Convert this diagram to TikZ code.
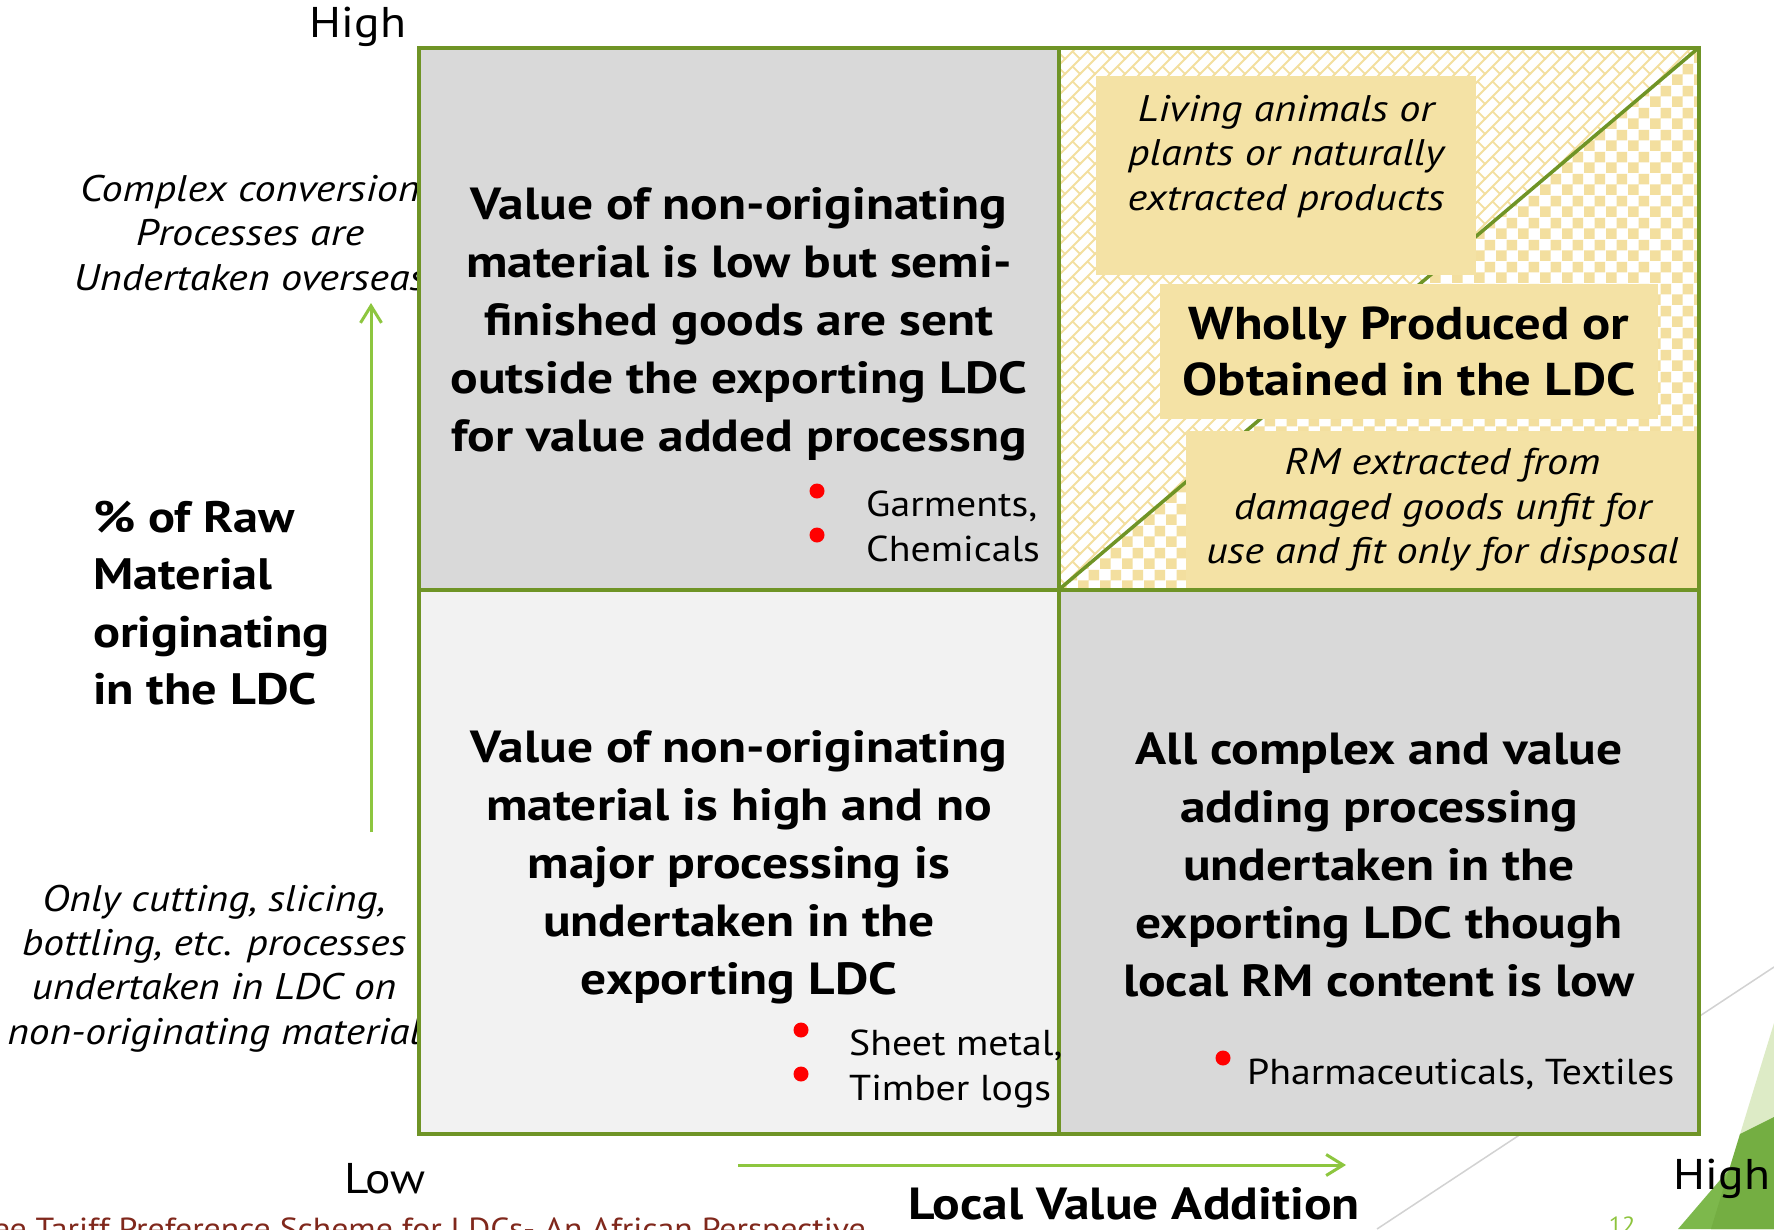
\documentclass[tikz,border=0pt]{standalone}
\usepackage{fontspec}
\setmainfont{PT Sans}
\newfontfamily\widesans[FakeStretch=1.144]{PT Sans}
\newfontfamily\plainsans[FakeStretch=1.105]{PT Sans}
\newfontfamily\slantsans[FakeStretch=1.14]{PT Sans}
\newfontfamily\slantnarrow[FakeStretch=1.12]{PT Sans}
\usetikzlibrary{arrows.meta,patterns}

\definecolor{gridgreen}{HTML}{6F9426}
\definecolor{arrowgreen}{HTML}{8DC63F}
\definecolor{cellgray}{HTML}{D9D9D9}
\definecolor{celllight}{HTML}{F2F2F2}
\definecolor{boxwheat}{HTML}{F4E2A5}
\definecolor{patwheat}{HTML}{F3DF9F}
\definecolor{footred}{HTML}{80281C}
\definecolor{pagegreen}{HTML}{8DC43C}
\definecolor{facetlight}{HTML}{DDEBC6}
\definecolor{facetdark}{HTML}{7DB84C}
\definecolor{facetmid}{HTML}{74AE42}
\definecolor{decogray}{HTML}{D2D2D2}

% diagonal bricks running up to the right
\pgfdeclarepatternformonly{diagbricks}{\pgfqpoint{-1pt}{-1pt}}{\pgfqpoint{16pt}{16pt}}{\pgfqpoint{15pt}{15pt}}{%
  \pgfsetlinewidth{1.8pt}%
  \pgfpathmoveto{\pgfqpoint{-1pt}{-1pt}}\pgfpathlineto{\pgfqpoint{16pt}{16pt}}%
  \pgfpathmoveto{\pgfqpoint{7.5pt}{7.5pt}}\pgfpathlineto{\pgfqpoint{15pt}{0pt}}%
  \pgfusepath{stroke}}

% large checkerboard
\pgfdeclarepatternformonly{bigchecks}{\pgfqpoint{0pt}{0pt}}{\pgfqpoint{22pt}{22pt}}{\pgfqpoint{22pt}{22pt}}{%
  \pgfpathrectangle{\pgfqpoint{0pt}{0pt}}{\pgfqpoint{11pt}{11pt}}%
  \pgfpathrectangle{\pgfqpoint{11pt}{11pt}}{\pgfqpoint{11pt}{11pt}}%
  \pgfusepath{fill}}

\tikzset{
  gridline/.style={draw=gridgreen, line width=4pt},
  bigtext/.style={font=\widesans\fontsize{45}{58}\selectfont\bfseries, align=center, inner sep=0pt},
  sidenote/.style={font=\slantsans\fontsize{37}{44.2}\selectfont\itshape, align=center, inner sep=0pt},
  itemtext/.style={font=\plainsans\fontsize{36}{45}\selectfont, align=left, inner sep=0pt, anchor=west},
  axislabel/.style={font=\plainsans\fontsize{43}{50}\selectfont, inner sep=0pt},
  reddot/.style={circle, fill=red, minimum size=15pt, inner sep=0pt},
  wheatbox/.style={fill=boxwheat, inner sep=0pt, align=center},
  axisarrow/.style={draw=arrowgreen, line width=3pt, -{Straight Barb[length=17pt,width=21pt,line width=3pt]}},
}

\begin{document}
\begin{tikzpicture}[x=1pt, y=-1pt]
\clip (0,0) rectangle (1774,1229);
\fill[white] (0,0) rectangle (1774,1229);

% theme decoration, bottom right
\draw[decogray, line width=1.5pt] (1377,1229) -- (1774,967);
\fill[facetlight] (1711,1229) -- (1774,1023) -- (1774,1229) -- cycle;
\fill[facetdark] (1678,1229) -- (1774,1117) -- (1774,1229) -- cycle;
\fill[facetmid] (1711,1229) -- (1740,1134) -- (1774,1117) -- (1774,1229) -- cycle;

% notes to the left of the matrix
\node[sidenote] (complex) at (250,233) {Complex conversion\\Processes are\\Undertaken overseas};
\node[sidenote, font=\slantnarrow\fontsize{37}{44.2}\selectfont\itshape] (cutting) at (214,968.5) {Only cutting, slicing,\\bottling, etc. processes\\undertaken in LDC on\\non-originating material};

% quadrant fills
\fill[cellgray] (419,47.5) rectangle (1059,589.5);
\fill[celllight] (419,589.5) rectangle (1059,1133.7);
\fill[cellgray] (1059,589.5) rectangle (1699,1133.7);
\fill[white] (1059,47.5) rectangle (1699,589.5);
\fill[pattern=diagbricks, pattern color=patwheat] (1059,589.5) -- (1059,47.5) -- (1699,47.5) -- cycle;
\fill[pattern=bigchecks, pattern color=patwheat] (1059,589.5) -- (1699,589.5) -- (1699,47.5) -- cycle;

% diagonal of the wholly produced quadrant
\coordinate (dlow) at (1059,589.5);
\coordinate (dhigh) at (1699,47.5);
\draw[draw=gridgreen, line width=3.5pt] (dlow) -- (dhigh);

% wheat boxes
\node[wheatbox, minimum width=380pt, minimum height=199pt] (livingbox) at (1285.5,175.5) {};
\node[wheatbox, font=\slantsans\fontsize{37}{44.2}\selectfont\itshape] (living) at (1286,156.5) {Living animals or\\plants or naturally\\extracted products};
\node[wheatbox, minimum width=498pt, minimum height=135pt, font=\widesans\fontsize{46}{56.5}\selectfont\bfseries] (wholly) at (1409,351.5) {Wholly Produced or\\Obtained in the LDC};
\node[wheatbox, minimum width=513pt, minimum height=159pt, font=\slantsans\fontsize{37}{44.5}\selectfont\itshape] (rm) at (1442.5,510) {RM extracted from\\damaged goods unfit for\\use and fit only for disposal};

% matrix grid
\draw[gridline] (419,47.5) rectangle (1699,1133.7);
\draw[gridline] (1059,47.5) -- (1059,1133.7);
\draw[gridline] (419,589.5) -- (1699,589.5);

% quadrant statements
\node[bigtext] (tl) at (739,324) {Value of non-originating\\material is low but semi-\\finished goods are sent\\outside the exporting LDC\\for value added processng};
\node[bigtext] (bl) at (739,867.5) {Value of non-originating\\material is high and no\\major processing is\\undertaken in the\\exporting LDC};
\node[bigtext] (br) at (1379,865) {All complex and value\\adding processing\\undertaken in the\\exporting LDC though\\local RM content is low};

% examples
\node[reddot] (dotg) at (817,491) {};
\node[reddot] (dotc) at (817,535) {};
\node[itemtext] (garments) at (866,526) {Garments,\\Chemicals};
\node[reddot] (dots) at (801,1030) {};
\node[reddot] (dott) at (801,1074) {};
\node[itemtext] (sheet) at (849,1069) {Sheet metal,\\Timber logs};
\node[reddot] (dotp) at (1223,1058) {};
\node[itemtext] (pharma) at (1247,1074) {Pharmaceuticals, Textiles};

% axes
\node[axislabel] (yhigh) at (358,27) {High};
\node[axislabel] (xlow) at (385,1179) {Low};
\node[axislabel] (xhigh) at (1722,1179) {High};
\node[font=\widesans\fontsize{44}{57.5}\selectfont\bfseries, align=left, inner sep=0pt, anchor=west] (ylabel) at (93,603) {\% of Raw\\Material\\originating\\in the LDC};
\node[font=\widesans\fontsize{45}{50}\selectfont\bfseries, inner sep=0pt] (xlabel) at (1134,1204) {Local Value Addition};
\coordinate (vbot) at (371,832);
\coordinate (vtop) at (371,303);
\draw[axisarrow] (vbot) -- (vtop);
\coordinate (hleft) at (738,1165);
\coordinate (hright) at (1346,1165);
\draw[axisarrow] (hleft) -- (hright);

% footer and slide number
\node[font=\plainsans\fontsize{30.5}{31}\selectfont, text=footred, inner sep=0pt, anchor=base east] (footer) at (866,1239) {ee Tariff Preference Scheme for LDCs- An African Perspective};
\node[font=\plainsans\fontsize{22}{24}\selectfont, text=pagegreen, inner sep=0pt, anchor=base] (pagenum) at (1622,1232) {12};
\end{tikzpicture}
\end{document}
